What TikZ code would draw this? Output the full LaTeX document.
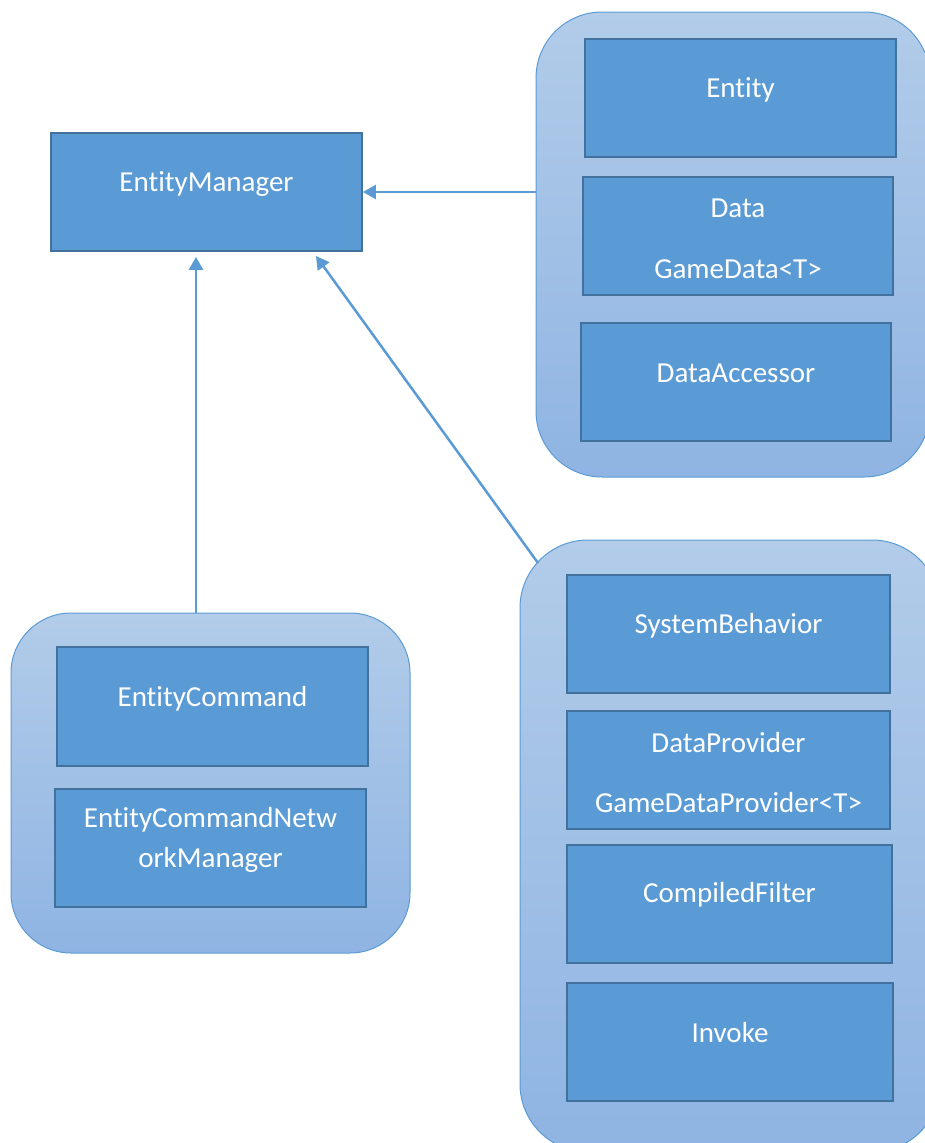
\documentclass[tikz,border=0pt]{standalone}
\usepackage{fontspec}
\setmainfont{Carlito}[Ligatures=NoCommon]
\usetikzlibrary{arrows.meta}

\definecolor{boxfill}{HTML}{5B9BD5}
\definecolor{boxline}{HTML}{41719C}
\definecolor{grouptop}{HTML}{B2CCE9}
\definecolor{groupbottom}{HTML}{8FB4E3}

\tikzset{
	group/.style={draw=boxfill, line width=1pt, rounded corners=#1, top color=grouptop, bottom color=groupbottom, inner sep=0pt},
	cls/.style={draw=boxline, fill=boxfill, line width=1.8pt, minimum height=118pt, inner sep=0pt},
	clstext/.style={text=white, align=center, font=\fontsize{29}{35}\selectfont, inner sep=0pt},
	conn/.style={draw=boxfill, line width=2.5pt, -{Triangle[length=13pt,width=14pt]}}
}

\begin{document}
\begin{tikzpicture}[x=1pt, y=-1pt]
		\useasboundingbox (0, 0) rectangle (925, 1143);
		\clip (0, 0) rectangle (925, 1143);
		
		% groups
		\node[group=66pt, minimum width=394pt, minimum height=465pt] (grpData) at (733, 244.5) {};
		\node[group=68pt, minimum width=420pt, minimum height=612pt] (grpSys) at (730, 846) {};
		\node[group=60pt, minimum width=399pt, minimum height=340pt] (grpCmd) at (210.5, 783) {};
		
		% classes
		\node[cls, minimum width=311pt] (emgr) at (206.5, 192) {};
		\node[cls, minimum width=311pt] (entity) at (740.5, 98) {};
		\node[cls, minimum width=310pt] (data) at (738, 236) {};
		\node[cls, minimum width=310pt] (dacc) at (736, 382) {};
		\node[cls, minimum width=323pt] (sysb) at (728.5, 634) {};
		\node[cls, minimum width=323pt] (dprov) at (728.5, 770) {};
		\node[cls, minimum width=325pt] (cfilt) at (729.5, 904) {};
		\node[cls, minimum width=326pt] (invoke) at (730, 1042) {};
		\node[cls, minimum width=311pt, minimum height=119pt] (ecmd) at (212.5, 706.5) {};
		\node[cls, minimum width=311pt] (ecnm) at (210.5, 848) {};
		
		\node[clstext] (emgrT) at ([yshift=8pt]emgr.center) {EntityManager};
		\node[clstext] (entityT) at ([yshift=8pt]entity.center) {Entity};
		\node[clstext] (dataT) at ([yshift=-3pt]data.center) {Data\\[26pt]GameData<T>};
		\node[clstext] (daccT) at ([yshift=9pt]dacc.center) {DataAccessor};
		\node[clstext] (sysbT) at ([yshift=8pt]sysb.center) {SystemBehavior};
		\node[clstext] (dprovT) at ([yshift=-3pt]dprov.center) {DataProvider\\[25pt]GameDataProvider<T>};
		\node[clstext] (cfiltT) at ([yshift=9pt]cfilt.center) {CompiledFilter};
		\node[clstext] (invokeT) at ([yshift=9pt]invoke.center) {Invoke};
		\node[clstext] (ecmdT) at ([yshift=8pt]ecmd.center) {EntityCommand};
		\node[clstext] (ecnmT) at ([yshift=8pt]ecnm.center) {EntityCommandNetw\\[5pt]orkManager};
		
		% arrows
		\coordinate (sysTop) at (538, 563);
		\coordinate (emgrTip) at (316, 256);
		\draw[conn] (grpData.west |- emgr.east) -- (emgr.east);
		\draw[conn] ([xshift=-14.5pt]grpCmd.north) -- ([xshift=-14.5pt, yshift=-5pt]grpCmd.north |- emgr.south);
		\draw[conn] (sysTop) -- (emgrTip);
	\end{tikzpicture}
\end{document}
